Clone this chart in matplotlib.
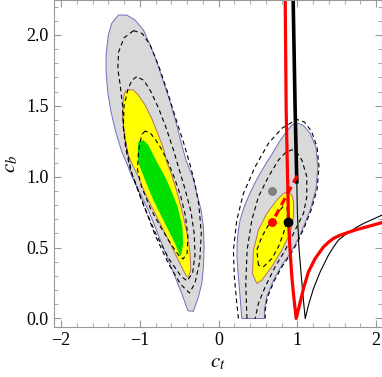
import matplotlib.pyplot as plt
from matplotlib.ticker import MultipleLocator

plt.rcParams['font.family'] = ['Liberation Serif', 'DejaVu Serif']
plt.rcParams['mathtext.fontset'] = 'stix'

# ---- left island (c_t < 0) ----
left_gray = [(-0.39, 0.055), (-0.468, 0.176), (-0.553, 0.294), (-0.638, 0.411), (-0.722, 0.529),
             (-0.807, 0.647), (-0.892, 0.764), (-0.997, 0.882), (-1.10, 1.0), (-1.17, 1.10),
             (-1.23, 1.176), (-1.307, 1.317), (-1.366, 1.458), (-1.408, 1.599), (-1.429, 1.74),
             (-1.429, 1.858), (-1.40, 1.999), (-1.357, 2.082), (-1.273, 2.14), (-1.167, 2.14),
             (-1.061, 2.105), (-0.955, 2.035), (-0.870, 1.93), (-0.786, 1.811), (-0.701, 1.670),
             (-0.616, 1.529), (-0.532, 1.364), (-0.468, 1.223), (-0.41, 1.11), (-0.33, 1.0),
             (-0.277, 0.882), (-0.222, 0.764), (-0.193, 0.647), (-0.184, 0.506), (-0.193, 0.364),
             (-0.213, 0.247), (-0.256, 0.153), (-0.32, 0.05)]
left_yellow = [(-0.384, 0.29), (-0.417, 0.306), (-0.511, 0.411), (-0.616, 0.529), (-0.722, 0.647),
               (-0.828, 0.764), (-0.934, 0.882), (-1.019, 0.999), (-1.10, 1.09), (-1.146, 1.152),
               (-1.188, 1.270), (-1.222, 1.435), (-1.209, 1.553), (-1.188, 1.599), (-1.146, 1.613),
               (-1.083, 1.611), (-1.019, 1.576), (-0.934, 1.506), (-0.849, 1.411), (-0.765, 1.294),
               (-0.701, 1.2), (-0.658, 1.105), (-0.587, 0.999), (-0.511, 0.858), (-0.447, 0.717),
               (-0.392, 0.576), (-0.362, 0.458), (-0.353, 0.341)]
left_green = [(-0.489, 0.44), (-0.553, 0.529), (-0.638, 0.623), (-0.722, 0.717), (-0.828, 0.835),
              (-0.934, 0.976), (-1.02, 1.10), (-1.027, 1.176), (-1.019, 1.246), (-0.955, 1.258),
              (-0.892, 1.223), (-0.828, 1.152), (-0.77, 1.09), (-0.68, 1.0), (-0.60, 0.90),
              (-0.52, 0.788), (-0.46, 0.647), (-0.45, 0.53), (-0.47, 0.46)]
left_dash_outer = [(-1.08, 2.03), (-1.20, 1.98), (-1.27, 1.88), (-1.28, 1.76), (-1.25, 1.65),
                   (-1.22, 1.50), (-1.21, 1.35), (-1.17, 1.20), (-1.10, 1.02), (-0.95, 0.80),
                   (-0.80, 0.58), (-0.63, 0.38), (-0.48, 0.24), (-0.37, 0.18), (-0.30, 0.25),
                   (-0.24, 0.40), (-0.22, 0.60), (-0.25, 0.80), (-0.30, 0.95), (-0.37, 1.10),
                   (-0.45, 1.25), (-0.55, 1.42), (-0.65, 1.60), (-0.76, 1.78), (-0.87, 1.93),
                   (-0.97, 2.01), (-1.08, 2.03)]
left_dash_mid = [(-1.04, 1.705), (-1.10, 1.68), (-1.15, 1.62), (-1.20, 1.50), (-1.21, 1.35),
                 (-1.18, 1.20), (-1.12, 1.05), (-0.97, 0.82), (-0.80, 0.60), (-0.63, 0.42),
                 (-0.48, 0.30), (-0.40, 0.265), (-0.33, 0.32), (-0.30, 0.45), (-0.31, 0.60),
                 (-0.35, 0.75), (-0.42, 0.90), (-0.50, 1.05), (-0.58, 1.20), (-0.67, 1.35),
                 (-0.76, 1.48), (-0.86, 1.60), (-0.95, 1.68), (-1.04, 1.705)]
left_dash_in = [(-0.934, 1.322), (-0.97, 1.30), (-1.00, 1.24), (-1.02, 1.15), (-1.03, 1.05),
                (-0.98, 0.93), (-0.86, 0.77), (-0.72, 0.63), (-0.60, 0.52), (-0.50, 0.44),
                (-0.45, 0.42), (-0.40, 0.46), (-0.39, 0.58), (-0.42, 0.72), (-0.48, 0.86),
                (-0.56, 0.99), (-0.64, 1.10), (-0.72, 1.19), (-0.80, 1.26), (-0.87, 1.31),
                (-0.934, 1.322)]

# ---- right island (c_t > 0) ----
right_gray = [(0.294, 0.0), (0.273, 0.153), (0.244, 0.341), (0.233, 0.44), (0.235, 0.529),
              (0.25, 0.62), (0.273, 0.694), (0.32, 0.78), (0.379, 0.859), (0.45, 0.945),
              (0.527, 1.023), (0.61, 1.10), (0.697, 1.176), (0.77, 1.245), (0.845, 1.305),
              (0.93, 1.364), (0.993, 1.38), (1.08, 1.36), (1.163, 1.305), (1.235, 1.211),
              (1.26, 1.07), (1.235, 0.906), (1.163, 0.765), (1.078, 0.647), (0.993, 0.541),
              (0.909, 0.459), (0.803, 0.376), (0.697, 0.27), (0.612, 0.153), (0.582, 0.059),
              (0.582, 0.0)]
right_yellow = [(0.887, 0.894), (0.93, 0.87), (0.951, 0.823), (0.951, 0.717), (0.909, 0.6),
                (0.803, 0.482), (0.676, 0.365), (0.549, 0.27), (0.485, 0.247), (0.43, 0.317),
                (0.442, 0.482), (0.506, 0.623), (0.612, 0.741), (0.739, 0.835), (0.824, 0.882)]
right_dash_outer = [(0.252, 0.0), (0.231, 0.106), (0.2, 0.294), (0.188, 0.482), (0.231, 0.694),
                    (0.315, 0.882), (0.464, 1.07), (0.633, 1.235), (0.803, 1.341), (0.993, 1.404),
                    (1.09, 1.385), (1.18, 1.32), (1.25, 1.21), (1.275, 1.07), (1.25, 0.91),
                    (1.175, 0.765), (1.09, 0.645), (1.0, 0.535), (0.915, 0.453), (0.81, 0.37),
                    (0.705, 0.264), (0.62, 0.15), (0.592, 0.06), (0.592, 0.0)]
right_dash_mid = [(0.36, 0.0), (0.345, 0.247), (0.362, 0.482), (0.422, 0.694), (0.506, 0.859),
                  (0.633, 1.0), (0.76, 1.117), (0.85, 1.17), (0.93, 1.19), (1.00, 1.165),
                  (1.057, 1.117), (1.12, 1.0), (1.12, 0.859), (1.078, 0.741), (0.993, 0.647),
                  (0.93, 0.576), (0.845, 0.482), (0.718, 0.365), (0.591, 0.223), (0.506, 0.106),
                  (0.464, 0.0)]
right_dash_in = [(0.506, 0.376), (0.485, 0.482), (0.549, 0.576), (0.633, 0.659), (0.74, 0.74),
                 (0.82, 0.79), (0.87, 0.78), (0.875, 0.70), (0.824, 0.6), (0.76, 0.506),
                 (0.676, 0.423), (0.57, 0.365), (0.506, 0.376)]

# ---- curves ----
red_curve_x = [0.845, 0.858, 0.887, 0.905, 0.93, 0.955, 0.985, 1.027, 1.078, 1.141, 1.226,
               1.332, 1.40, 1.459, 1.54, 1.629, 1.73, 1.84, 2.10]
red_curve_y = [2.30, 1.47, 0.694, 0.50, 0.294, 0.15, 0.0, 0.094, 0.212, 0.329, 0.423,
               0.505, 0.54, 0.565, 0.587, 0.604, 0.623, 0.64, 0.68]
black_curve_x = [0.945, 0.972, 0.993, 1.0, 1.02, 1.05, 1.075, 1.10, 1.141, 1.205, 1.29,
                 1.395, 1.46, 1.522, 1.60, 1.671, 1.75, 1.84, 2.10]
black_curve_y = [2.30, 1.47, 0.964, 0.75, 0.50, 0.30, 0.14, 0.0, 0.094, 0.212, 0.329,
                 0.447, 0.505, 0.553, 0.588, 0.612, 0.643, 0.67, 0.735]
black_thick_x = [0.945, 0.972, 0.993]
black_thick_y = [2.30, 1.47, 0.964]
red_dash_x = [0.72, 1.02]
red_dash_y = [0.72, 1.03]

# best-fit points
pt_red = (0.676, 0.677)
pt_black = (0.887, 0.677)
pt_gray = (0.676, 0.898)

fig = plt.figure(figsize=(3.82, 3.77), dpi=100)
ax = fig.add_axes([0.142, 0.133, 0.857, 0.867])


def region(pts, face, edge):
    xs, ys = zip(*pts)
    ax.fill(xs, ys, facecolor=face, edgecolor=edge, linewidth=0.7)


def dashed(pts):
    xs, ys = zip(*pts)
    ax.plot(xs, ys, color='black', lw=0.8, ls=(0, (4, 3)))


region(left_gray, '#d9d9d9', '#6f6fbf')
region(right_gray, '#d9d9d9', '#6f6fbf')
region(left_yellow, '#ffff00', '#b07070')
region(right_yellow, '#ffff00', '#b07070')
region(left_green, '#00e000', 'none')

for c in [left_dash_outer, left_dash_mid, left_dash_in,
          right_dash_outer, right_dash_mid, right_dash_in]:
    dashed(c)

ax.plot(black_curve_x, black_curve_y, color='black', lw=0.8)
ax.plot(black_thick_x, black_thick_y, color='black', lw=2.6)
ax.plot(red_curve_x, red_curve_y, color='red', lw=2.3)
ax.plot(red_dash_x, red_dash_y, color='red', lw=2.3, ls=(0, (2.5, 1.5)))

ax.plot(*pt_gray, 'o', color='#808080', ms=5.4)
ax.plot(*pt_red, 'o', color='red', ms=5.4)
ax.plot(*pt_black, 'o', color='black', ms=6)

ax.set_xlim(-2.087, 2.07)
ax.set_ylim(-0.059, 2.246)
ax.xaxis.set_major_locator(MultipleLocator(1))
ax.xaxis.set_minor_locator(MultipleLocator(0.2))
ax.yaxis.set_major_locator(MultipleLocator(0.5))
ax.yaxis.set_minor_locator(MultipleLocator(0.1))
ax.xaxis.set_major_formatter(plt.FuncFormatter(lambda v, p: '%d' % v if v >= 0 else '\u2212%d' % -v))
ax.yaxis.set_major_formatter(plt.FuncFormatter(lambda v, p: '%.1f' % v))
ax.tick_params(which='both', direction='in', top=True, right=True, color='#999999',
               labelsize=13, pad=4)
ax.tick_params(which='major', length=5)
ax.tick_params(which='minor', length=2.8)
for s in ax.spines.values():
    s.set_color('#999999')
    s.set_linewidth(0.8)

ax.set_xlabel('$c_t$', fontsize=15, labelpad=3)
ax.set_ylabel('$c_b$', fontsize=15, labelpad=4)

fig.savefig('out.png', dpi=100)
